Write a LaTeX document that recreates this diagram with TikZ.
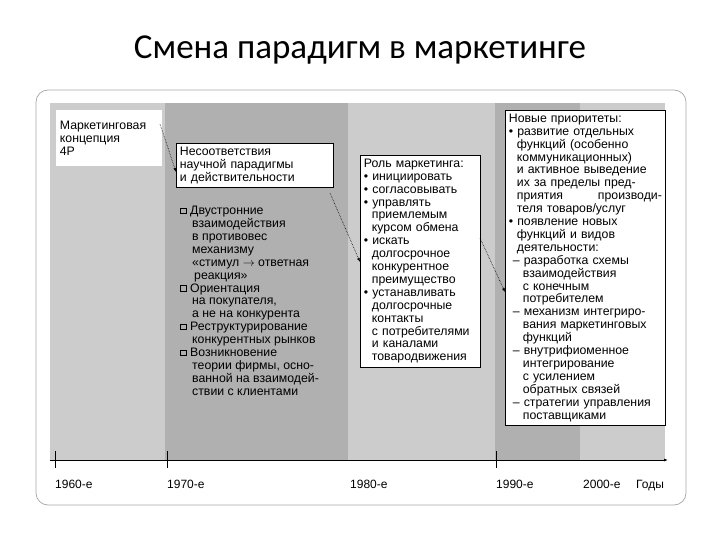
\documentclass[tikz,border=0pt]{standalone}
\usetikzlibrary{arrows.meta}
\usepackage{fontspec}
\setmainfont{Liberation Sans}
\newfontfamily\titlefont{Carlito}
\newcommand{\sqb}{\rlap{\raisebox{0.5pt}{\tikz\draw[line width=0.8pt] (0,0) rectangle (5.5pt,5.5pt);}}\hspace{10pt}}
\begin{document}
\begin{tikzpicture}[x=1pt,y=-1pt,
  box/.style={draw=black,fill=white,line width=0.8pt,inner sep=3.5pt,anchor=north west,align=left,font=\fontsize{12.3}{12.9}\selectfont},
  txt/.style={inner sep=0pt,anchor=north west,align=left,font=\fontsize{12.3}{12.9}\selectfont},
  lbl/.style={inner sep=0pt,anchor=base west,font=\fontsize{12}{12}\selectfont},
  conn/.style={densely dotted,line width=0.6pt,-{Latex[length=4pt]}}]
\useasboundingbox (0,0) rectangle (720,540);
\node[font=\titlefont\fontsize{35}{40}\selectfont] (title) at (360,50) {Смена парадигм в маркетинге};
\draw[gray!70,line width=0.7pt,rounded corners=12pt] (36,90) rectangle (686,505);
\fill[gray!40] (50,103) rectangle (165,460);
\fill[gray!62] (165,103) rectangle (348,460);
\fill[gray!40] (348,103) rectangle (495,460);
\fill[gray!62] (495,103) rectangle (580,460);
\fill[gray!40] (580,103) rectangle (665,460);
\coordinate (ax0) at (50,460);
\coordinate (ax1) at (668,460);
\draw[line width=0.8pt,-{Latex[length=4pt]}] (ax0) -- (ax1);
\foreach \x in {55,167,496} \draw[line width=0.8pt] (\x,451) -- (\x,468);
\node[lbl] (y60) at (55,488) {1960-е};
\node[lbl] (y70) at (167,488) {1970-е};
\node[lbl] (y80) at (350,488) {1980-е};
\node[lbl] (y90) at (496,488) {1990-е};
\node[lbl] (y00) at (583,488) {2000-е};
\node[lbl] (god) at (636,488) {Годы};
\node[box,draw=none,text width=99pt,minimum height=56pt] (b1) at (56,110) {Маркетинговая\\концепция\\4P};
\node[box,text width=150pt] (b2) at (176,143) {Несоответствия\\научной парадигмы\\и действительности};
\node[txt] (l2) at (180,206) {\sqb Двустронние\\
\hspace{12pt}взаимодействия\\\hspace{12pt}в противовес\\\hspace{12pt}механизму\\\hspace{12pt}«стимул $\rightarrow$ ответная\\\hspace{14pt}реакция»\\
\sqb Ориентация\\\hspace{12pt}на покупателя,\\\hspace{12pt}а не на конкурента\\
\sqb Реструктурирование\\\hspace{12pt}конкурентных рынков\\
\sqb Возникновение\\\hspace{12pt}теории фирмы, осно-\\\hspace{12pt}ванной на взаимодей-\\\hspace{12pt}ствии с клиентами};
\node[box,text width=113pt] (b3) at (360,155) {Роль маркетинга:\\
• инициировать\\• согласовывать\\• управлять\\\hspace{8pt}приемлемым\\\hspace{8pt}курсом обмена\\
• искать\\\hspace{8pt}долгосрочное\\\hspace{8pt}конкурентное\\\hspace{8pt}преимущество\\
• устанавливать\\\hspace{8pt}долгосрочные\\\hspace{8pt}контакты\\\hspace{8pt}с потребителями\\\hspace{8pt}и каналами\\\hspace{8pt}товародвижения};
\node[box,text width=153pt] (b4) at (505,110) {Новые приоритеты:\\
• развитие отдельных\\\hspace{8pt}функций (особенно\\\hspace{8pt}коммуникационных)\\\hspace{8pt}и активное выведение\\\hspace{8pt}их за пределы пред-\\\hspace{8pt}приятия\hfill производи-\\\hspace{8pt}теля товаров/услуг\\
• появление новых\\\hspace{8pt}функций и видов\\\hspace{8pt}деятельности:\\
\hspace{4pt}– разработка схемы\\\hspace{14pt}взаимодействия\\\hspace{14pt}с конечным\\\hspace{14pt}потребителем\\
\hspace{4pt}– механизм интегриро-\\\hspace{14pt}вания маркетинговых\\\hspace{14pt}функций\\
\hspace{4pt}– внутрифиоменное\\\hspace{14pt}интегрирование\\\hspace{14pt}с усилением\\\hspace{14pt}обратных связей\\
\hspace{4pt}– стратегии управления\\\hspace{14pt}поставщиками};
\coordinate (c1) at (160,124);
\draw[conn] (c1) -- (b2.west |- 0,172);
\coordinate (c2) at (330,193);
\draw[conn] (c2) -- (b3.west |- 0,262);
\coordinate (c3) at (480,238);
\draw[conn] (c3) -- (b4.west |- 0,292);
\end{tikzpicture}
\end{document}
